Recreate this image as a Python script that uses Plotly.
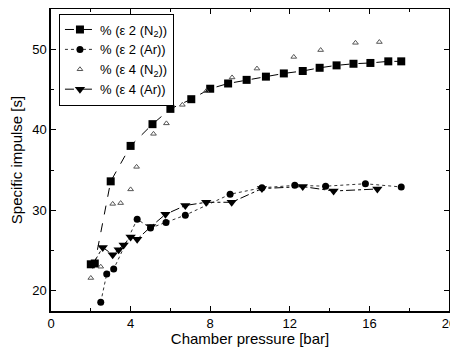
import plotly.graph_objects as go

# eps 2 (N2)
x_e2n2 = [2.0, 2.2, 3.0, 4.0, 5.1, 6.0, 7.05, 8.0, 8.9, 9.83, 10.8, 11.7, 12.65, 13.5, 14.35, 15.2, 16.05, 16.95, 17.6]
y_e2n2 = [23.3, 23.4, 33.6, 38.0, 40.7, 42.6, 43.8, 45.1, 45.75, 46.2, 46.6, 47.0, 47.3, 47.7, 48.0, 48.2, 48.3, 48.5, 48.5]
# eps 2 (Ar)
x_e2ar = [2.5, 2.8, 3.15, 4.33, 5.0, 5.78, 6.75, 9.0, 10.6, 12.25, 13.8, 15.8, 17.6]
y_e2ar = [18.6, 22.1, 22.7, 28.9, 27.8, 28.5, 29.4, 32.0, 32.8, 33.1, 33.0, 33.3, 32.9]
# eps 4 (N2)
x_e4n2 = [2.0, 2.5, 3.1, 3.5, 4.0, 4.3, 5.15, 5.8, 6.6, 7.8, 9.1, 10.35, 12.2, 13.55, 15.3, 16.5]
y_e4n2 = [21.6, 23.0, 30.8, 30.9, 32.6, 35.4, 39.5, 40.8, 43.1, 44.8, 46.5, 47.6, 49.05, 49.9, 50.8, 50.9]
# eps 4 (Ar)
x_e4ar = [2.1, 2.6, 3.1, 3.4, 3.65, 4.0, 4.33, 5.03, 5.75, 6.75, 7.8, 9.08, 10.6, 12.65, 14.2, 16.4]
y_e4ar = [23.3, 25.4, 24.5, 25.1, 25.7, 26.7, 26.4, 28.0, 29.5, 30.6, 31.0, 31.0, 32.7, 32.95, 32.4, 32.65]

names = ["% (\u03b5 2 (N<sub>2</sub>))", "% (\u03b5 2 (Ar))", "% (\u03b5 4 (N<sub>2</sub>))", "% (\u03b5 4 (Ar))"]

FONT = "Liberation Sans, Arial, sans-serif"

fig = go.Figure()
fig.add_trace(go.Scatter(x=x_e2n2, y=y_e2n2, name=names[0], mode="lines+markers",
                         line=dict(color="black", width=1, dash="dash"),
                         marker=dict(symbol="square", size=8, color="black")))
fig.add_trace(go.Scatter(x=x_e2ar, y=y_e2ar, name=names[1], mode="lines+markers",
                         line=dict(color="#333333", width=1, dash="dot"),
                         marker=dict(symbol="circle", size=7, color="black")))
fig.add_trace(go.Scatter(x=x_e4n2, y=y_e4n2, name=names[2], mode="markers",
                         marker=dict(symbol="triangle-up-open", size=5, color="#555555", line=dict(width=1))))
fig.add_trace(go.Scatter(x=x_e4ar, y=y_e4ar, name=names[3], mode="lines+markers",
                         line=dict(color="black", width=1, dash="dashdot"),
                         marker=dict(symbol="triangle-down", size=9, color="black")))

axis_common = dict(showline=True, linecolor="black", linewidth=1.5, mirror="ticks",
                   ticks="inside", ticklen=5, tickcolor="black", tickwidth=1,
                   showgrid=False, zeroline=False, automargin=False,
                   ticklabeloverflow="allow",
                   tickfont=dict(family=FONT, size=13, color="black"))

fig.update_xaxes(range=[0, 20], tickvals=[0, 4, 8, 12, 16, 20],
                 minor=dict(tickvals=[2, 6, 10, 14, 18], ticks="inside", ticklen=3, tickcolor="black"),
                 title=dict(text="Chamber pressure [bar]", font=dict(family=FONT, size=15, color="black")),
                 **axis_common)
fig.update_yaxes(range=[17.5, 55], tickvals=[20, 30, 40, 50],
                 minor=dict(tickvals=[25, 35, 45], ticks="inside", ticklen=3, tickcolor="black"),
                 title=dict(text="Specific impulse [s]", font=dict(family=FONT, size=15, color="black")),
                 **axis_common)

# Page body keeps its default 8px margin; the figure is sized to land at the reference position.
fig.update_layout(
    width=450, height=339,
    margin=dict(l=43, r=9, t=1, b=36),
    plot_bgcolor="white", paper_bgcolor="white",
    font=dict(family=FONT, color="black"),
    legend=dict(x=0.02, y=0.985, xanchor="left", yanchor="top",
                bordercolor="black", borderwidth=1, bgcolor="white",
                font=dict(family=FONT, size=13, color="black"),
                tracegroupgap=0, itemwidth=30),
)

fig.write_html("out.html", config={"displayModeBar": False})
